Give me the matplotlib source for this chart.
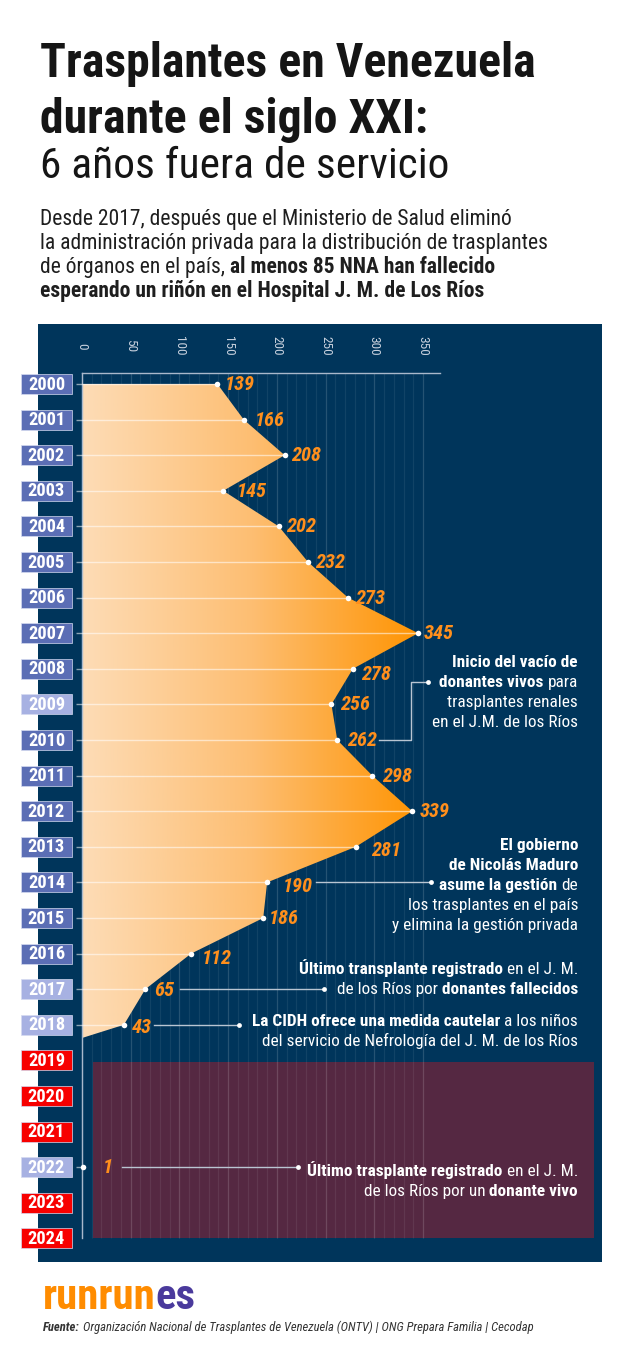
import matplotlib
matplotlib.use('Agg')
import matplotlib.pyplot as plt
from matplotlib import font_manager
from matplotlib.colors import LinearSegmentedColormap
from matplotlib.patches import Polygon, Rectangle
import numpy as np

# ---- data -------------------------------------------------------------
years = list(range(2000, 2025))
data_years = list(range(2000, 2019))
transplants = [139, 166, 208, 145, 202, 232, 273, 345, 278, 256,
               262, 298, 339, 281, 190, 186, 112, 65, 43]
last_year = 2022
last_value = 1
light_years = [2009, 2017, 2018, 2022]
empty_years = [2019, 2020, 2021, 2023, 2024]
x_ticks = [0, 50, 100, 150, 200, 250, 300, 350]

title_1 = 'Trasplantes en Venezuela'
title_2 = 'durante el siglo XXI:'
title_3 = '6 años fuera de servicio'
subtitle = [
    [('Desde 2017, después que el Ministerio de Salud eliminó', 'normal')],
    [('la administración privada para la distribución de trasplantes', 'normal')],
    [('de órganos en el país,', 'normal'), ('al menos 85 NNA han fallecido', 'bold')],
    [('esperando un riñón en el Hospital J. M. de Los Ríos', 'bold')],
]
notes = {
    'vacio': [[('Inicio del vacío de', 'bold')],
              [('donantes vivos', 'bold'), ('para', 'normal')],
              [('trasplantes renales', 'normal')],
              [('en el J.M. de los Ríos', 'normal')]],
    'maduro': [[('El gobierno', 'bold')],
               [('de Nicolás Maduro', 'bold')],
               [('asume la gestión', 'bold'), ('de', 'normal')],
               [('los trasplantes en el país', 'normal')],
               [('y elimina la gestión privada', 'normal')]],
    'fallecidos': [[('Último transplante registrado', 'bold'), ('en el J. M.', 'normal')],
                   [('de los Ríos por', 'normal'), ('donantes fallecidos', 'bold')]],
    'cidh': [[('La CIDH ofrece una medida cautelar', 'bold'), ('a los niños', 'normal')],
             [('del servicio de Nefrología del J. M. de los Ríos', 'normal')]],
    'vivo': [[('Último trasplante registrado', 'bold'), ('en el J. M.', 'normal')],
             [('de los Ríos por un', 'normal'), ('donante vivo', 'bold')]],
}
source_parts = [('Fuente:', 'bold'),
                ('Organización Nacional de Trasplantes de Venezuela (ONTV) | ONG Prepara Familia | Cecodap', 'normal')]

# ---- styling / layout --------------------------------------------------
W, H = 640, 1350
NAVY = '#00355B'
WINE = '#552842'
ORANGE = '#FF8F1C'
BOX = '#5B6EB5'
BOX_LIGHT = '#A7B1E2'
BOX_RED = '#F70000'

names = {f.name for f in font_manager.fontManager.ttflist}
FAM = [n for n in ['Roboto Condensed', 'Liberation Sans Narrow', 'Roboto'] if n in names] + ['DejaVu Sans']

X0, K = 82, 341 / 350      # pixel of value 0, pixels per unit
Y0, DY = 384, 35.6         # pixel of year 2000, pixels per year


def dx(px):
    return (px - X0) / K


def yr(py):
    return 2000 + (py - Y0) / DY


fig = plt.figure(figsize=(6.4, 13.5), dpi=100, facecolor='white')
renderer = fig.canvas.get_renderer()


def width(t):
    return t.get_window_extent(renderer=renderer).width


def space(size, style):
    a = fig.text(0, 0, 'x x', fontsize=size, fontstyle=style, family=FAM)
    b = fig.text(0, 0, 'xx', fontsize=size, fontstyle=style, family=FAM)
    w = width(a) - width(b)
    a.remove()
    b.remove()
    return w


def line(x, y, parts, size, color='white', ha='left', style='normal', sep=True):
    objs = []
    for p in parts:
        col = p[2] if len(p) > 2 else color
        objs.append(fig.text(0, 1 - y / H, p[0], fontsize=size, fontweight=p[1],
                             fontstyle=style, color=col, family=FAM, va='baseline'))
    sp = space(size, style) if sep else 0
    ws = [width(t) for t in objs]
    total = sum(ws) + sp * (len(objs) - 1)
    cx = x - total if ha == 'right' else x
    for t, w in zip(objs, ws):
        t.set_x(cx / W)
        cx += w + sp
    return objs, total


def fit(parts, size, target, style='normal', sep=True):
    objs, total = line(0, -100, parts, size, style=style, sep=sep)
    for t in objs:
        t.remove()
    return size * target / total


# ---- header -------------------------------------------------------------
ts = fit([(title_1, 'bold')], 36, 495)
line(40, 77, [(title_1, 'bold')], ts, color='#151515')
line(40, 133, [(title_2, 'bold')], ts, color='#151515')
t3 = fit([(title_3, 'normal')], 30, 409)
line(40, 178, [(title_3, 'normal')], t3, color='#151515')

ss = fit(subtitle[1], 13.5, 509)
scale = ss / 13.5
for i, parts in enumerate(subtitle):
    line(40, 225 + i * 24, parts, ss, color='#1e1e1e')

# ---- chart panel -------------------------------------------------------
ax = fig.add_axes([38 / W, 1 - 1262 / H, 564 / W, 938 / H])
ax.set_facecolor(NAVY)
ax.set_xticks([])
ax.set_yticks([])
for s in ax.spines.values():
    s.set_visible(False)

ax.add_patch(Rectangle((dx(93), yr(1062)), dx(594) - dx(93), yr(1238) - yr(1062),
                       facecolor=WINE, edgecolor='none', zorder=1))

for v in range(0, 351, 10):
    major = v % 50 == 0
    ax.vlines(v, yr(373), yr(1238), color='white', alpha=0.15 if major else 0.07,
              lw=0.9, zorder=2)

# gradient area
poly = Polygon(np.column_stack([[0] + transplants + [0],
                                [data_years[0]] + data_years + [yr(1038)]]),
               closed=True, facecolor='none', edgecolor='none')
ax.add_patch(poly)
cmap = LinearSegmentedColormap.from_list('peach', ['#FDDCB6', '#FDBE72', '#FF9300'])
im = ax.imshow(np.linspace(0, 1, 256).reshape(1, -1), cmap=cmap, aspect='auto',
               extent=(0, 350, yr(1040), 2000), zorder=3)
im.set_clip_path(poly)

# axis lines
ax.plot([0, dx(440)], [yr(373)] * 2, color='#A9B8CB', lw=1, zorder=4)
ax.plot([0, 0], [yr(373), yr(1238)], color='#A9B8CB', lw=1, zorder=4)
for v in x_ticks:
    ax.text(v, yr(346), str(v), rotation=-90, ha='center', va='center',
            fontsize=9.5, color='#C8D1DE', family=FAM)

# row lines and points
ax.hlines(data_years, dx(76), transplants, color='white', alpha=0.55, lw=1, zorder=4)
ax.hlines(last_year, dx(76), last_value, color='white', alpha=0.55, lw=1, zorder=4)
ax.scatter(transplants + [last_value], data_years + [last_year], s=16, color='white',
           zorder=6, linewidths=0)

offsets = [(7, 0), (11, 0), (6, 0), (14, 0), (7, 0), (7, 0), (7, 0), (6, 0), (8, 5), (9, 0),
           (10, 0), (10, 0), (7, 0), (15, 3), (16, 4), (6, 0), (11, 4), (9, 1), (8, 2)]
vs = 12.8 * scale
for v, y, (ox, oy) in zip(transplants + [last_value], data_years + [last_year], offsets + [(20, 0)]):
    ax.annotate(str(v), (v, y), xytext=(ox, -(oy + 6)), textcoords='offset pixels',
                ha='left', va='baseline', color=ORANGE, fontsize=vs,
                fontweight='bold', fontstyle='italic', family=FAM, zorder=7)

# year boxes
for y in years:
    c = BOX_RED if y in empty_years else BOX_LIGHT if y in light_years else BOX
    ax.add_patch(Rectangle((dx(21), y - 10 / DY), 51 / K, 20 / DY, facecolor=c,
                           edgecolor='#D5DAF0', lw=0.5, clip_on=False, zorder=8))
    ax.text(dx(46.5), y + 5.5 / DY, str(y), ha='center', va='baseline', color='white',
            fontsize=11.5 * scale, fontweight='bold', family=FAM, zorder=9, clip_on=False)

# connectors
CON = dict(color='#B9C5D2', lw=1, zorder=5)
DOT = dict(s=12, color='white', zorder=6, linewidths=0)
ax.plot([dx(379), dx(411), dx(411), dx(428)], [2010, 2010, yr(682), yr(682)], **CON)
ax.scatter([dx(428)], [yr(682)], **DOT)
ax.plot([dx(316), dx(431)], [2014, 2014], **CON)
ax.scatter([dx(431)], [2014], **DOT)
ax.plot([dx(180), dx(324)], [2017, 2017], **CON)
ax.scatter([dx(324)], [2017], **DOT)
ax.plot([dx(154), dx(239)], [2018, 2018], **CON)
ax.scatter([dx(239)], [2018], **DOT)
ax.plot([dx(122), dx(298)], [last_year, last_year], **CON)
ax.scatter([dx(298)], [last_year], **DOT)

ax.set_xlim(dx(38), dx(602))
ax.set_ylim(yr(1262), yr(324))

# annotation text blocks (right aligned)
ns = fit(notes['cidh'][0], 12.5, 326)
blocks = {'vacio': 667, 'maduro': 850, 'fallecidos': 974, 'cidh': 1026, 'vivo': 1176}
for key, top in blocks.items():
    for i, parts in enumerate(notes[key]):
        line(578, top + i * 20, parts, ns, color='white', ha='right')

# ---- footer ------------------------------------------------------------
logo = [('runrun', 'bold', '#FF8C00'), ('es', 'bold', '#4A3A9C')]
ls = fit(logo, 30, 153, sep=False)
line(43, 1309, logo, ls, sep=False)

fs = fit(source_parts, 8.5, 490, style='italic')
line(43, 1331, source_parts, fs, color='#333333', style='italic')

fig.savefig('out.png', dpi=100, facecolor='white')
